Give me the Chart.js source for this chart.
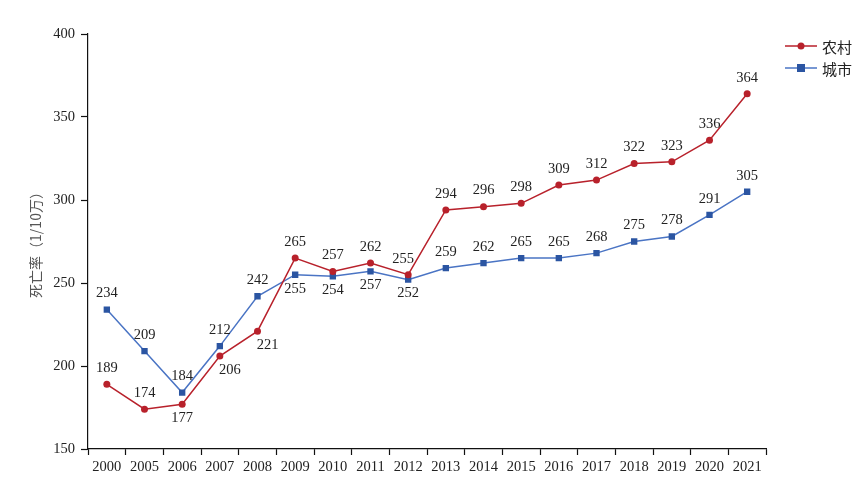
<!DOCTYPE html>
<html>
<head>
<meta charset="utf-8">
<script src="https://cdn.jsdelivr.net/npm/chart.js@4/dist/chart.umd.min.js"></script>
<style>
  html, body { margin: 0; padding: 0; background: #fff; }
  #wrap { width: 865px; height: 480px; }
</style>
</head>
<body>
<div id="wrap"><canvas id="myChart"></canvas></div>
<script>
// data
const years = ['2000', '2005', '2006', '2007', '2008', '2009', '2010', '2011', '2012',
  '2013', '2014', '2015', '2016', '2017', '2018', '2019', '2020', '2021'];
const rural = [189, 174, 177, 206, 221, 265, 257, 262, 255, 294, 296, 298, 309, 312, 322, 323, 336, 364];
const urban = [234, 209, 184, 212, 242, 255, 254, 257, 252, 259, 262, 265, 265, 268, 275, 278, 291, 305];
const yTicks = [150, 200, 250, 300, 350, 400];

// where each value label sits: 'a' above, 'b' below
const ruralLabelPos = ['a', 'a', 'b', 'b', 'b', 'a', 'a', 'a', 'a', 'a', 'a', 'a', 'a', 'a', 'a', 'a', 'a', 'a'];
const urbanLabelPos = ['a', 'a', 'a', 'a', 'a', 'b', 'b', 'b', 'b', 'a', 'a', 'a', 'a', 'a', 'a', 'a', 'a', 'a'];

const RED = '#b8212b';
const BLUE_LINE = '#4a74c4';
const BLUE_PT = '#2b55a2';
const SERIF = '"Liberation Serif", "DejaVu Serif", serif';

// value labels + legend
const labelPlugin = {
  id: 'labels',
  afterDatasetsDraw(chart) {
    const ctx = chart.ctx;
    ctx.save();
    ctx.font = '14.5px ' + SERIF;
    ctx.fillStyle = '#222';
    ctx.textAlign = 'center';
    ctx.textBaseline = 'middle';
    const posSets = [ruralLabelPos, urbanLabelPos];
    chart.data.datasets.forEach((ds, di) => {
      const meta = chart.getDatasetMeta(di);
      meta.data.forEach((pt, i) => {
        const below = posSets[di][i] === 'b';
        let dx = 0;
        if (di === 0 && below && i >= 3) dx = 10;
        if (di === 0 && i === 8) dx = -5;
        ctx.fillText(String(ds.data[i]), pt.x + dx, below ? pt.y + 14 : pt.y - 16);
      });
    });

    // legend top-right
    const items = [
      { text: '农村', color: RED, ptColor: RED, style: 'circle' },
      { text: '城市', color: BLUE_LINE, ptColor: BLUE_PT, style: 'rect' }
    ];
    ctx.textAlign = 'left';
    ctx.font = '15px "Noto Sans CJK SC", sans-serif';
    items.forEach((it, k) => {
      const y = 46 + k * 22;
      ctx.strokeStyle = it.color;
      ctx.lineWidth = 1.5;
      ctx.beginPath();
      ctx.moveTo(785, y);
      ctx.lineTo(817, y);
      ctx.stroke();
      ctx.fillStyle = it.ptColor;
      if (it.style === 'circle') {
        ctx.beginPath();
        ctx.arc(801, y, 3.5, 0, Math.PI * 2);
        ctx.fill();
      } else {
        ctx.fillRect(797, y - 4, 8, 8);
      }
      ctx.fillStyle = '#222';
      ctx.fillText(it.text, 822, y + 1);
    });
    ctx.restore();
  }
};

new Chart(document.getElementById('myChart'), {
  type: 'line',
  data: {
    labels: years,
    datasets: [{
      label: '农村',
      data: rural,
      borderColor: RED,
      backgroundColor: RED,
      borderWidth: 1.5,
      pointStyle: 'circle',
      pointRadius: 3.5,
      pointBorderWidth: 0,
      tension: 0
    }, {
      label: '城市',
      data: urban,
      borderColor: BLUE_LINE,
      backgroundColor: BLUE_PT,
      borderWidth: 1.5,
      pointStyle: 'rect',
      pointRadius: 4.5,
      pointBorderWidth: 0,
      tension: 0
    }]
  },
  options: {
    responsive: true,
    maintainAspectRatio: false,
    animation: false,
    layout: { padding: { left: 0, right: 99, top: 34, bottom: 0 } },
    plugins: {
      legend: { display: false },
      tooltip: { enabled: false }
    },
    scales: {
      x: {
        offset: true,
        grid: {
          offset: true,
          drawOnChartArea: false,
          drawTicks: true,
          tickLength: 6,
          tickWidth: 1.2,
          tickColor: '#111'
        },
        border: { display: true, color: '#111', width: 1.2 },
        ticks: {
          autoSkip: false,
          maxRotation: 0,
          padding: 3,
          color: '#222',
          font: { family: SERIF, size: 14.5 }
        },
        afterFit(scale) { scale.height = 31; }
      },
      y: {
        min: 150,
        max: 400,
        afterBuildTicks(scale) { scale.ticks = yTicks.map(v => ({ value: v })); },
        grid: {
          drawOnChartArea: false,
          drawTicks: true,
          tickLength: 7,
          tickWidth: 1.2,
          tickColor: '#111'
        },
        border: { display: true, color: '#111', width: 1.2 },
        ticks: {
          padding: 6,
          color: '#222',
          font: { family: SERIF, size: 14.5 }
        },
        title: {
          display: true,
          text: '死亡率（1/10万）',
          color: '#555',
          padding: { top: 27, bottom: 0 },
          font: { family: '"Noto Sans CJK SC", sans-serif', size: 14 }
        },
        afterFit(scale) { scale.width = 88; }
      }
    }
  },
  plugins: [labelPlugin]
});
</script>
</body>
</html>
